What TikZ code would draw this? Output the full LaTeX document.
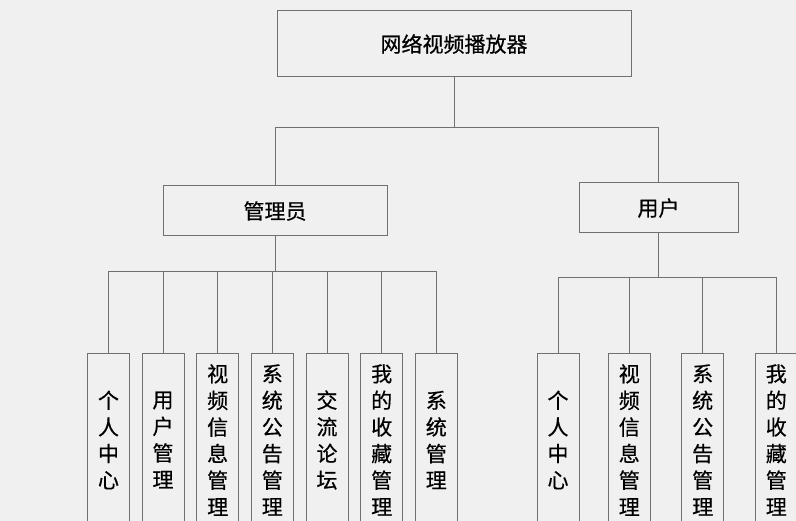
\documentclass[tikz,border=0pt]{standalone}
\usepackage{fontspec}
\setmainfont{Noto Sans CJK SC}[FakeBold=0.5]
\definecolor{bggray}{HTML}{F0F0F0}
\definecolor{linegray}{HTML}{707070}
\tikzset{
  box/.style={draw=linegray, line width=1pt, fill=bggray, inner sep=0pt, text=black,
    font=\fontsize{21}{21}\selectfont},
  leaf/.style={box, minimum width=42pt, minimum height=172pt, align=center,
    font=\fontsize{21}{26.6}\selectfont},
  link/.style={draw=linegray, line width=1pt}
}
\begin{document}
\begin{tikzpicture}[x=1pt, y=-1pt]

    % Hintergrund
    \fill[bggray] (0,0) rectangle (796,521);
    \clip (0,0) rectangle (796,521);

    % Wurzel
    \node[box, minimum width=354pt, minimum height=66pt] (root) at (454,44) {网络视频播放器};

    % Rollen
    \node[box, minimum width=224pt, minimum height=50pt] (admin) at (275,211) {管理员};
    \node[box, minimum width=159pt, minimum height=50pt] (user) at (658.5,208) {用户};

    % Module des Administrators
    \node[leaf] (a1) at (108.5,440) {个\\人\\中\\心};
    \node[leaf] (a2) at (163,440) {用\\户\\管\\理};
    \node[leaf] (a3) at (217.7,440) {视\\频\\信\\息\\管\\理};
    \node[leaf] (a4) at (272.3,440) {系\\统\\公\\告\\管\\理};
    \node[leaf] (a5) at (327,440) {交\\流\\论\\坛};
    \node[leaf] (a6) at (381.7,440) {我\\的\\收\\藏\\管\\理};
    \node[leaf] (a7) at (436.3,440) {系\\统\\管\\理};

    % Module des Benutzers
    \node[leaf] (u1) at (558,440) {个\\人\\中\\心};
    \node[leaf] (u2) at (629.3,440) {视\\频\\信\\息\\管\\理};
    \node[leaf] (u3) at (702.7,440) {系\\统\\公\\告\\管\\理};
    \node[leaf] (u4) at (776.3,440) {我\\的\\收\\藏\\管\\理};

    % Verbindungen
    \draw[link] (root.south) -- ++(0,50) -| (admin.north);
    \draw[link] (root.south) -- ++(0,50) -| (user.north);

    \foreach \n in {a1,a2,a3,a4,a5,a6,a7}
      \draw[link] (admin.south) -- ++(0,35) -| (\n.north);

    \foreach \n in {u1,u2,u3,u4}
      \draw[link] (user.south) -- ++(0,44) -| (\n.north);

\end{tikzpicture}
\end{document}
